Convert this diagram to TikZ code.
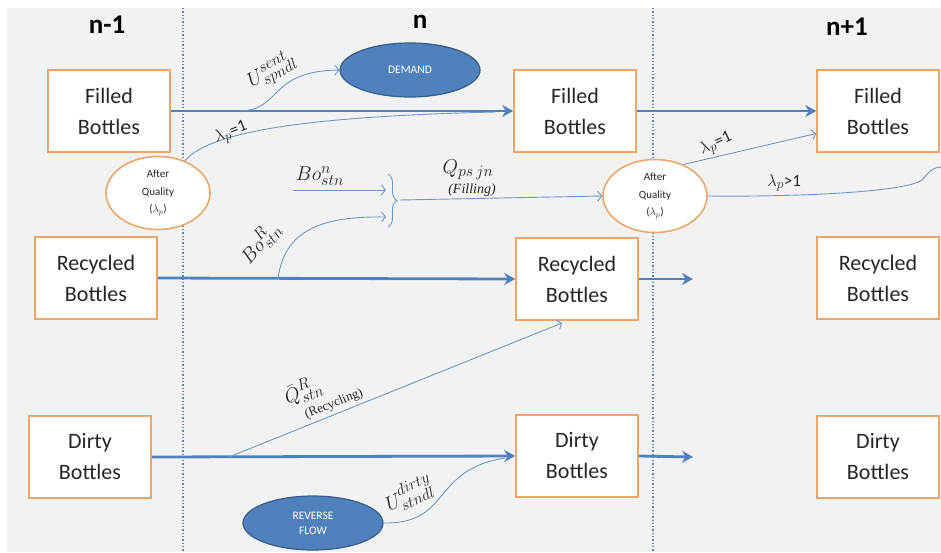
\documentclass[tikz,border=0pt]{standalone}
\usepackage{fontspec}
\setmainfont{Carlito}
\newfontfamily\labserif{Liberation Serif}
\DeclareFontShape{OML}{cmm}{m}{it}{<-7.5>cmmi7 <7.5-11>cmmi10 <11->cmmi12}{}
\DeclareMathSizes{20}{20}{16}{12}
\DeclareMathSizes{17}{17}{13.5}{10}
\usetikzlibrary{shapes.geometric,arrows.meta,decorations.pathreplacing,calc}
\definecolor{bgray}{RGB}{242,242,242}
\definecolor{boxorange}{RGB}{236,166,106}
\definecolor{blueA}{RGB}{79,129,189}
\definecolor{blueB}{RGB}{110,150,200}
\definecolor{blobedge}{RGB}{56,93,138}
\definecolor{txt}{RGB}{38,38,38}
\definecolor{divc}{RGB}{90,130,190}
\begin{document}
\begin{tikzpicture}[x=1pt,y=-1pt,
  stockbox/.style={draw=boxorange,line width=1.6pt,fill=white,minimum width=122pt,minimum height=82pt,
    align=center,inner sep=0pt,text=txt,font=\fontsize{22}{31}\selectfont},
  aqnode/.style={ellipse,draw=boxorange,line width=1.6pt,fill=white,minimum width=104pt,minimum height=73pt,
    align=center,inner sep=0pt,text=txt,font=\fontsize{11}{17.5}\selectfont},
  blob/.style={ellipse,draw=blobedge,line width=1.2pt,fill=blueA,minimum width=140pt,minimum height=54pt,
    align=center,inner sep=0pt,text=white,font=\fontsize{11.5}{15}\selectfont},
  header/.style={font=\fontsize{27}{30}\selectfont\bfseries,text=black},
  divider/.style={draw=divc,line width=1.3pt,dotted},
  flowarr/.style={draw=blueA,line width=2.8pt,-{Stealth[length=11pt,width=12pt,inset=3.5pt]}},
  thinflow/.style={draw=blueB,line width=0.9pt},
  thinarr/.style={thinflow,-{Straight Barb[length=4pt,width=10pt]}},
  mlbl/.style={text=txt,font=\fontsize{20}{22}\selectfont,inner sep=1pt},
  slbl/.style={text=txt,font=\fontsize{17}{19}\selectfont,inner sep=1pt}
]
\useasboundingbox (0,0) rectangle (941,552);
\fill[white] (0,0) rectangle (941,552);
\fill[bgray] (7,8) rectangle (941,552);
\draw[divider] (183,8) -- (183,552);
\draw[divider] (653,8) -- (653,552);

% headers
\node[header] (h1) at (107,25) {n-1};
\node[header] (h2) at (420,22) {n};
\node[header] (h3) at (847,27) {n+1};

% stock boxes
\node[stockbox] (f1) at (109,111) {Filled\\Bottles};
\node[stockbox] (r1) at (96,278) {Recycled\\Bottles};
\node[stockbox] (d1) at (90,457) {Dirty\\Bottles};
\node[stockbox] (f2) at (575,111) {Filled\\Bottles};
\node[stockbox] (r2) at (577,279) {Recycled\\Bottles};
\node[stockbox] (d2) at (577,456) {Dirty\\Bottles};
\node[stockbox] (f3) at (878,111) {Filled\\Bottles};
\node[stockbox] (r3) at (878,278) {Recycled\\Bottles};
\node[stockbox] (d3) at (878,457) {Dirty\\Bottles};

% after quality
\node[aqnode] (aqL) at (158,193) {After\\Quality\\($\lambda_p$)};
\node[aqnode] (aqR) at (655,196) {After\\Quality\\($\lambda_p$)};

% demand / reverse flow
\node[blob] (dem) at (410,70) {DEMAND};
\node[blob] (rev) at (313,523) {REVERSE\\FLOW};

% coordinates
\coordinate (usStart) at (240,111);
\coordinate (mergeF) at (495,112);
\coordinate (boNs) at (293,190);
\coordinate (boNe) at (386,190);
\coordinate (boRs) at (278,279);
\coordinate (boRe) at (386,217);
\coordinate (brTop) at (388,174);
\coordinate (brBot) at (388,227);
\coordinate (brTip) at (400,200);
\coordinate (qrS) at (229,457);
\coordinate (qrE) at (562,323);
\coordinate (mergeD) at (505,458);
\coordinate (exitR) at (941,167);
\coordinate (rEnd) at (693,279);
\coordinate (dEnd) at (693,457);

% thick flows
\draw[flowarr] (f1.east) -- (f2.west);
\draw[flowarr] (f2.east) -- (f3.west);
\draw[flowarr] (r1.east) -- (r2.west);
\draw[flowarr] (r2.east) -- (rEnd);
\draw[flowarr] (d1.east) -- (d2.west);
\draw[flowarr] (d2.east) -- (dEnd);

% thin flows
\draw[thinarr] (usStart) .. controls (282,110) and (268,71) .. (dem.west);
\node[mlbl,rotate=30] (lblU) at (272,71) {$U^{sent}_{spndl}$};

\draw[thinflow] (aqL.50) .. controls (212,128) and (330,116) .. (mergeF);
\node[slbl,rotate=22] (lblL1) at (231,133) {$\lambda_p$=1};

\draw[thinarr] (boNs) -- (boNe);
\node[mlbl] (lblBoN) at (320,176) {$Bo^{n}_{stn}$};

\draw[thinarr] (boRs) .. controls (284,230) and (322,216) .. (boRe);
\node[mlbl,rotate=50] (lblBoR) at (260,243) {$Bo^{R}_{stn}$};

\draw[thinflow,decorate,decoration={brace,amplitude=9pt}] (brTop) -- (brBot);
\draw[thinarr] (brTip) -- (aqR.west);
\node[mlbl] (lblQ) at (468,170) {$Q_{ps\,jn}$};
\node[text=txt,font=\fontsize{14}{15}\selectfont\labserif\itshape,inner sep=0pt] (lblFill) at (472,190) {(Filling)};

\draw[thinarr] (aqR.48) -- (f3.200);
\node[slbl,rotate=25] (lblR1) at (716,144) {$\lambda_p$=1};

\draw[thinflow] (aqR.east) .. controls (800,197) and (905,192) .. (922,180) .. controls (929,172) and (931,168) .. (exitR);
\node[slbl] (lblR2) at (784,183) {$\lambda_p$>1};

\draw[thinarr] (qrS) -- (qrE);
\node[mlbl,rotate=22] (lblQR) at (303,391) {$\bar{Q}^{R}_{stn}$};
\node[text=txt,font=\fontsize{13}{14}\selectfont\labserif,rotate=22,inner sep=0pt] (lblRec) at (334,404) {(Recycling)};

\draw[thinflow] (rev.east) .. controls (452,524) and (430,470) .. (mergeD);
\node[mlbl,rotate=25] (lblUD) at (409,494) {$U^{dirty}_{stndl}$};
\end{tikzpicture}
\end{document}
